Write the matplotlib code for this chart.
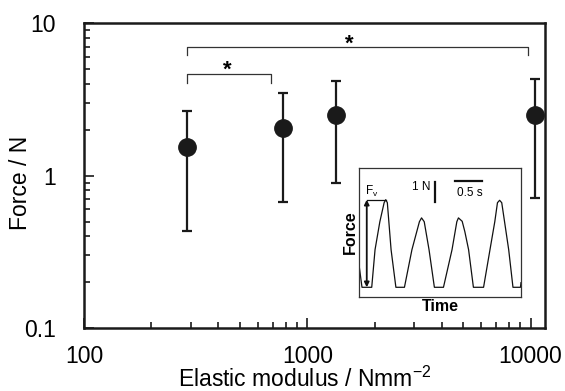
import matplotlib
matplotlib.use("Agg")
import matplotlib.pyplot as plt
import numpy as np

plt.rcParams['font.family'] = ['Liberation Sans', 'DejaVu Sans']
plt.rcParams['mathtext.fontset'] = 'custom'
plt.rcParams['mathtext.rm'] = 'Liberation Sans'
plt.rcParams['mathtext.it'] = 'Liberation Sans:italic'

# Main data
modulus = [290, 780, 1350, 10500]
force_mean = [1.55, 2.05, 2.51, 2.50]
force_upper = [2.67, 3.47, 4.19, 4.31]
force_lower = [0.435, 0.676, 0.894, 0.711]

# Significance brackets: (x_left, x_right, y_drop, y_top)
bracket_big = [290, 9700, 6.2, 7.03]
bracket_small = [290, 690, 4.05, 4.64]

# Inset waveform (time in s, force in N)
wave_t = [0.00, 0.056, 0.238, 0.30, 0.39, 0.47, 0.50, 0.53, 0.60, 0.69,
          0.85, 0.99, 1.13, 1.17, 1.22, 1.31, 1.41, 1.58, 1.74, 1.83,
          1.86, 1.93, 1.98, 2.05, 2.14, 2.33, 2.45, 2.54, 2.59, 2.63,
          2.67, 2.80, 2.88, 3.02, 3.03]
wave_f = [1.60, 0.47, 0.47, 2.35, 3.75, 4.70, 4.85, 4.70, 2.35, 0.47,
          0.47, 2.35, 3.75, 3.94, 3.75, 2.35, 0.47, 0.47, 2.35, 3.75,
          3.94, 3.77, 3.25, 2.35, 0.47, 0.47, 2.35, 3.75, 4.70, 4.82,
          4.70, 2.35, 0.47, 0.47, 0.70]

fig = plt.figure(figsize=(5.65, 3.91), dpi=100)
ax = fig.add_axes([0.1487, 0.1611, 0.8159, 0.7793])
ax.set_xscale('log')
ax.set_yscale('log')
ax.set_xlim(100, 11600)
ax.set_ylim(0.1, 10)

yerr = [np.array(force_mean) - np.array(force_lower),
        np.array(force_upper) - np.array(force_mean)]
ax.errorbar(modulus, force_mean, yerr=yerr, fmt='o', color='#1a1a1a',
            ms=12.5, elinewidth=1.6, capsize=3.5, capthick=1.6, zorder=3)

for b in (bracket_big, bracket_small):
    x0, x1, yd, yt = b
    ax.plot([x0, x0, x1, x1], [yd, yt, yt, yd], color='#333333', lw=0.9)

ax.text(1540, 7.25, '*', ha='center', va='center', fontsize=16, fontweight='bold')
ax.text(437, 4.9, '*', ha='center', va='center', fontsize=16, fontweight='bold')

for s in ax.spines.values():
    s.set_linewidth(1.8)
    s.set_color('#1a1a1a')

ax.set_xticks([100, 1000, 10000])
ax.set_xticklabels(['100', '1000', '10000'])
ax.set_yticks([0.1, 1, 10])
ax.set_yticklabels(['0.1', '1', '10'])
ax.tick_params(which='both', direction='in', top=False, right=False,
               labelsize=16.5, width=1.2, color='#1a1a1a')
ax.tick_params(axis='y', which='major', length=7, pad=20)
ax.tick_params(axis='x', which='major', length=7, pad=12)
ax.tick_params(which='minor', length=4.5)
ax.tick_params(axis='y', which='minor', labelleft=False)
ax.tick_params(axis='x', which='minor', labelbottom=False)

ax.set_xlabel('Elastic modulus / Nmm$^{-2}$', fontsize=16.5)
ax.set_ylabel('Force / N', fontsize=16.5)
ax.xaxis.set_label_coords(0.478, -0.128)
ax.yaxis.set_label_coords(-0.112, 0.475)

# Inset
ins = fig.add_axes([0.6354, 0.2412, 0.2867, 0.3299])
ins.plot(wave_t, wave_f, color='#111111', lw=0.9)
ins.set_xlim(0, 3.03)
ins.set_ylim(0, 6.45)
ins.set_xticks([])
ins.set_yticks([])
for s in ins.spines.values():
    s.set_linewidth(0.9)
    s.set_color('#333333')
ins.set_xlabel('Time', fontsize=11.5, fontweight='bold', labelpad=2)
ins.set_ylabel('Force', fontsize=11.5, fontweight='bold', labelpad=1)

# Fv arrow and top line
ins.annotate('', xy=(0.145, 4.85), xytext=(0.145, 0.47),
             arrowprops=dict(arrowstyle='<|-|>', color='#111111', lw=1.3,
                             mutation_scale=7, shrinkA=0, shrinkB=0))
ins.plot([0.145, 0.50], [4.85, 4.85], color='#111111', lw=0.9)
ins.text(0.13, 5.0, 'F', fontsize=8.5, ha='left', va='bottom')
ins.text(0.27, 4.95, 'v', fontsize=6, ha='left', va='bottom')

# Scale bars
ins.plot([1.42, 1.42], [4.75, 5.75], color='#111111', lw=1.6)
ins.text(1.34, 5.5, '1 N', fontsize=8.5, ha='right', va='center')
ins.plot([1.80, 2.30], [5.8, 5.8], color='#111111', lw=1.6)
ins.text(2.08, 5.2, '0.5 s', fontsize=8.5, ha='center', va='center')

fig.savefig('out.png', dpi=100)
